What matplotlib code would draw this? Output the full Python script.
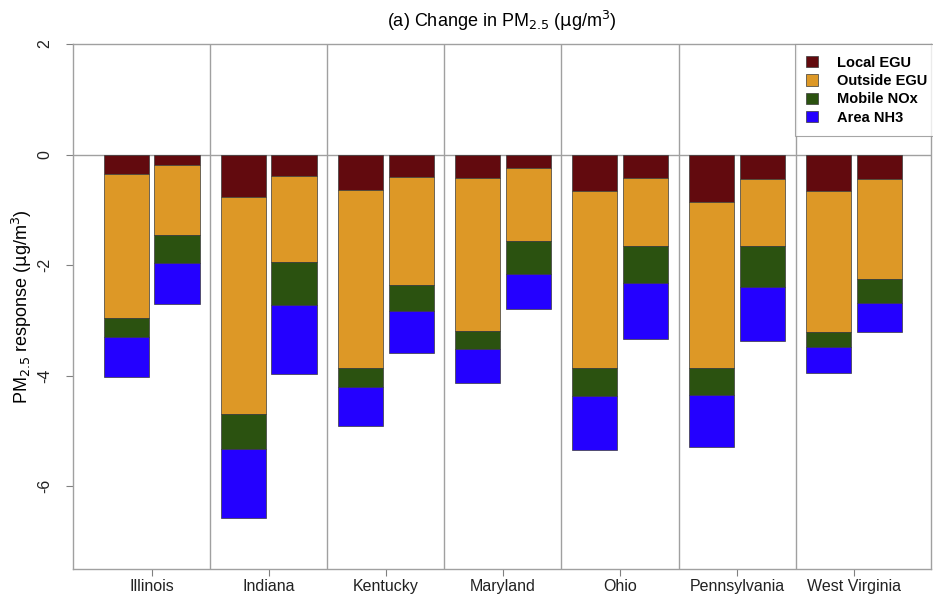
import numpy as np
import matplotlib.pyplot as plt

plt.rcParams['font.family'] = ['Liberation Sans', 'DejaVu Sans']

states = ['Illinois', 'Indiana', 'Kentucky', 'Maryland', 'Ohio',
          'Pennsylvania', 'West Virginia']
sources = ['Local EGU', 'Outside EGU', 'Mobile NOx', 'Area NH3']
colors = ['#620a0e', '#dd9826', '#2b5210', '#2400ff']

# contribution of each source, first and second scenario per state
local_a = [-0.35, -0.77, -0.64, -0.43, -0.66, -0.86, -0.66]
outside_a = [-2.60, -3.92, -3.23, -2.76, -3.21, -3.01, -2.56]
mobile_a = [-0.35, -0.64, -0.34, -0.33, -0.50, -0.48, -0.27]
area_a = [-0.72, -1.24, -0.71, -0.62, -0.97, -0.95, -0.47]

local_b = [-0.19, -0.39, -0.41, -0.25, -0.42, -0.45, -0.45]
outside_b = [-1.27, -1.55, -1.95, -1.31, -1.24, -1.21, -1.81]
mobile_b = [-0.51, -0.79, -0.48, -0.60, -0.66, -0.73, -0.42]
area_b = [-0.74, -1.24, -0.75, -0.63, -1.02, -0.99, -0.53]

fig = plt.figure(figsize=(9.33, 5.97), dpi=100)
ax = fig.add_axes([73 / 933, 28 / 597, 858 / 933, 525 / 597])

x = np.arange(len(states))
width = 0.385
offset = 0.214

for pos, parts in [(x - offset, [local_a, outside_a, mobile_a, area_a]),
                   (x + offset, [local_b, outside_b, mobile_b, area_b])]:
    bottom = np.zeros(len(states))
    for vals, col, name in zip(parts, colors, sources):
        vals = np.array(vals)
        ax.bar(pos, vals, width, bottom=bottom, color=col,
               edgecolor='#3a3a3a', linewidth=0.5,
               label=name if pos[0] < 0 else None)
        bottom += vals

# group separators and zero line
for s in x[:-1] + 0.5:
    ax.axvline(s, color='#a0a0a0', linewidth=1.0, zorder=0)
ax.axhline(0, color='#a0a0a0', linewidth=1.0, zorder=0)

ax.set_xlim(-0.675, 6.658)
ax.set_ylim(-7.5, 2)
ax.set_xticks(x)
ax.set_xticklabels(states, fontsize=11.5, color='#222222')
ax.set_yticks([2, 0, -2, -4, -6])
ax.set_yticklabels(['2', '0', '-2', '-4', '-6'], rotation=90, va='center',
                   fontsize=11.5, color='#222222')
ax.tick_params(axis='both', color='#808080', length=5, width=0.8)
ax.tick_params(axis='y', pad=10)
ax.tick_params(axis='x', pad=2)
for sp in ax.spines.values():
    sp.set_color('#a0a0a0')
    sp.set_linewidth(1.0)

ax.set_ylabel(r'PM$_{2.5}$ response ($\mathrm{\mu}$g/m$^3$)', fontsize=13)
ax.yaxis.set_label_coords(-0.045, 0.5)
ax.set_title(r'(a) Change in PM$_{2.5}$ ($\mathrm{\mu}$g/m$^3$)', fontsize=13,
             pad=12)

leg = ax.legend(loc='upper right', bbox_to_anchor=(1.0 + 8 / 858, 1.0),
                frameon=True, fancybox=False, edgecolor='#909090',
                handlelength=0.8, handleheight=0.8, handletextpad=1.3,
                borderpad=0.8, labelspacing=0.3,
                prop={'weight': 'bold', 'size': 10.5}, borderaxespad=0)
leg.get_frame().set_linewidth(0.8)

fig.savefig('out.png', dpi=100)
